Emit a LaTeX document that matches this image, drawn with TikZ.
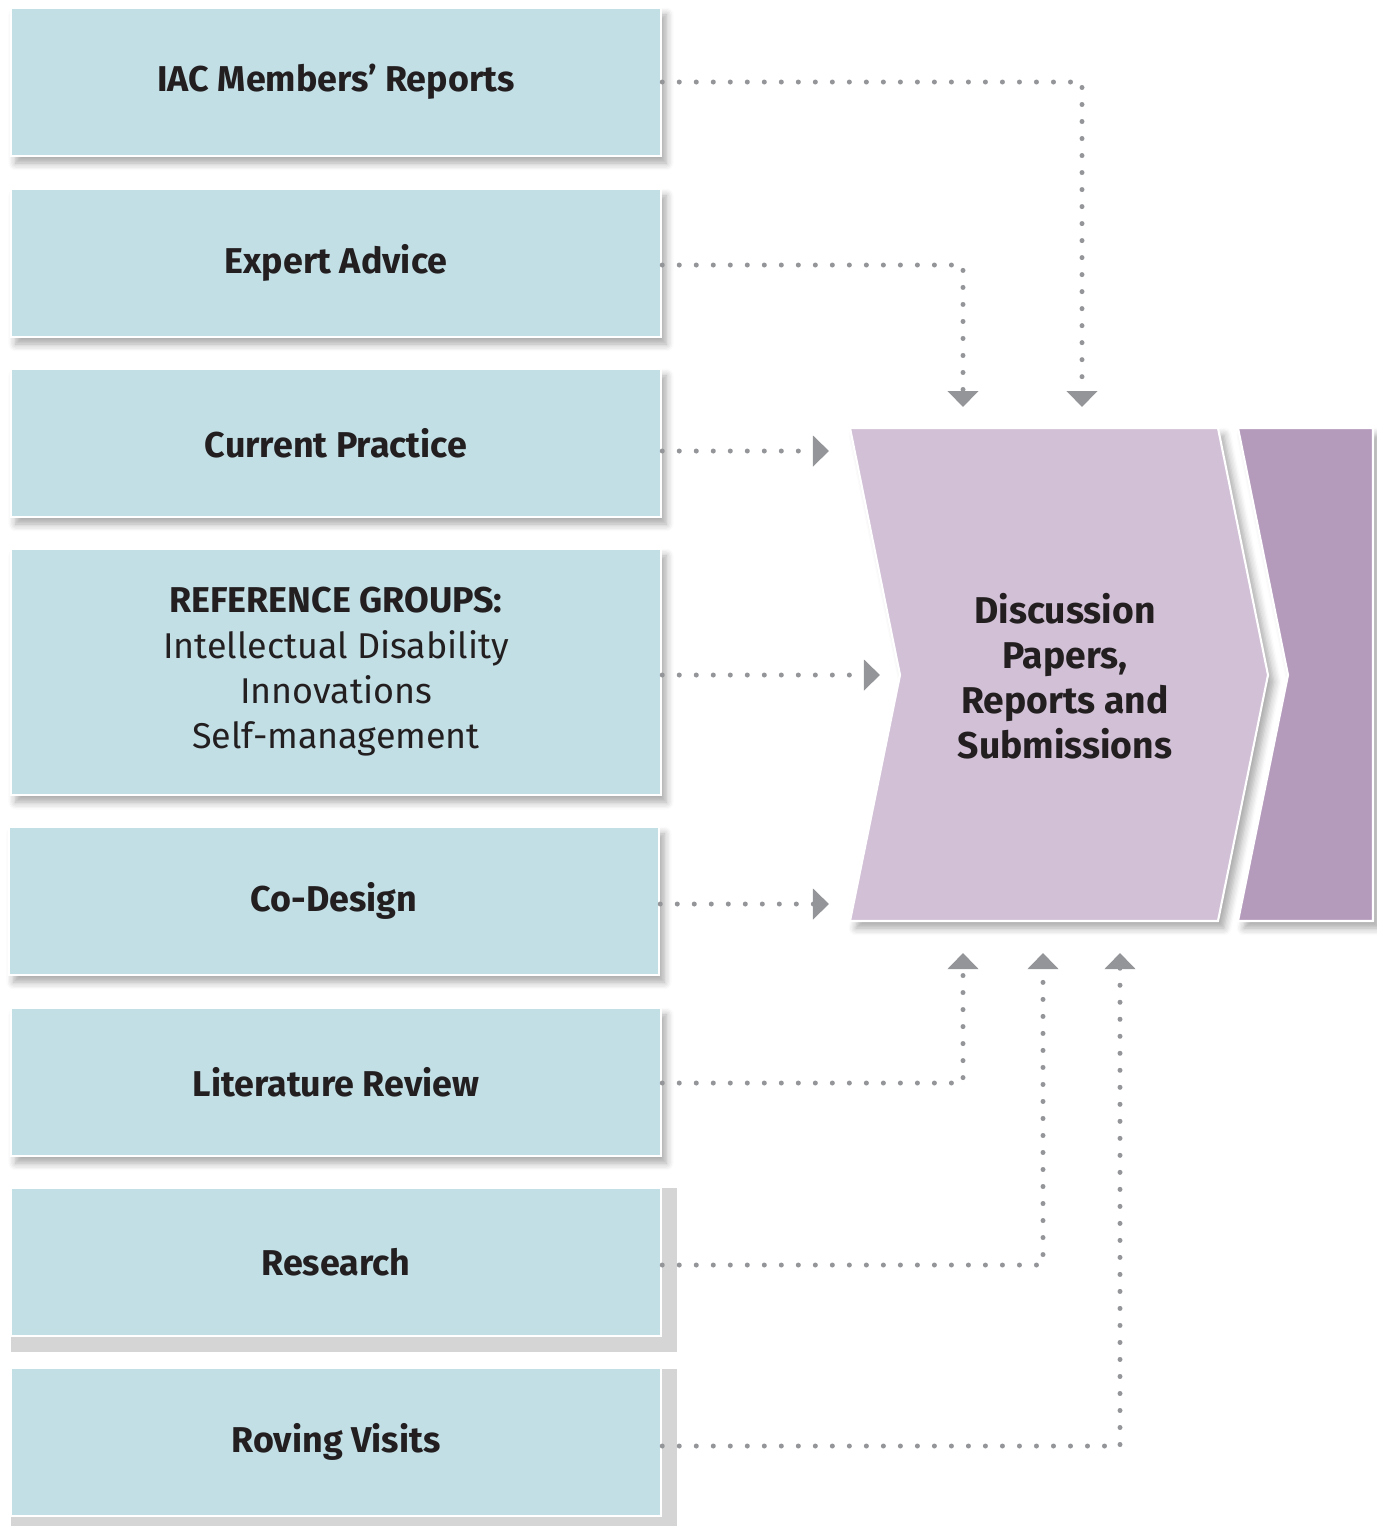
\documentclass[tikz,border=0pt]{standalone}
\usepackage{fontspec}
\setmainfont{Fira Sans}
\usetikzlibrary{arrows.meta,shadows.blur,positioning}
\definecolor{boxblue}{HTML}{C2DFE6}
\definecolor{lilac}{HTML}{D1C0D6}
\definecolor{plum}{HTML}{B49BBC}
\definecolor{dotgrey}{HTML}{939598}
\definecolor{ink}{HTML}{231F20}
\definecolor{edgegrey}{HTML}{D5D5D5}
\tikzset{
    source/.style={
    rectangle,draw=white,line width=0.6pt,fill=boxblue,text=ink,
    minimum width=6.5cm,minimum height=1.48cm,align=center,inner sep=0pt,
    font=\fontsize{10.2}{12.9}\selectfont
    },
    softsource/.style={
    source,
    blur shadow={shadow xshift=0.05cm,shadow yshift=-0.07cm,shadow blur steps=6,shadow opacity=35}
    },
    chevron/.style={
    draw=white,line width=0.6pt,
    blur shadow={shadow xshift=0.06cm,shadow yshift=-0.07cm,shadow blur steps=6,shadow opacity=35}
    },
    flow/.style={
    draw=dotgrey,line width=0.05cm,line cap=round,dash pattern=on 0pt off 0.17cm,
    -{Triangle[width=0.3cm,length=0.16cm]}
    },
}

\begin{document}
\begin{tikzpicture}[x=0.01cm,y=-0.01cm]
  \useasboundingbox (0,0) rectangle (1377,1526);

  % grey frames behind the two lowest boxes
  \fill[edgegrey] (11,1188) rectangle (677,1352);
  \fill[edgegrey] (11,1369) rectangle (677,1526);

  \node[softsource] (iac) at (336,82) {\bfseries IAC Members’ Reports};
  \node[softsource] (expert) at (336,263) {\bfseries Expert Advice};
  \node[softsource] (practice) at (336,443) {\bfseries Current Practice};
  \node[softsource,minimum height=2.46cm] (refgroups) at (336,672)
    {\textbf{REFERENCE GROUPS:}\\Intellectual Disability\\Innovations\\Self-management};
  \node[softsource] (codesign) at (334,901) {\bfseries Co-Design};
  \node[softsource] (litreview) at (336,1082) {\bfseries Literature Review};
  \node[source] (research) at (336,1262) {\bfseries Research};
  \node[source] (roving) at (336,1442) {\bfseries Roving Visits};

  % output chevrons
  \fill[plum,chevron] (1238,428) -- (1373,428) -- (1373,921) -- (1238,921) -- (1288,675) -- cycle;
  \fill[lilac,chevron] (850,428) -- (1218,428) -- (1268,675) -- (1218,921) -- (850,921) -- (900,675) -- cycle;
  \node[text=ink,align=center,font=\fontsize{10.6}{12.8}\selectfont\bfseries] (papers) at (1065,676)
    {Discussion\\Papers,\\Reports and\\Submissions};

  % arrow ends
  \coordinate (inA) at (963,407);
  \coordinate (inB) at (1082,407);
  \coordinate (inC) at (829,451);
  \coordinate (inD) at (880,675);
  \coordinate (inE) at (829,904);
  \coordinate (inF) at (963,953);
  \coordinate (inG) at (1043,953);
  \coordinate (inH) at (1120,953);

  \draw[flow] (iac.east) -| (inB);
  \draw[flow] (expert.east |- 0,265) -| (inA);
  \draw[flow] (practice.east |- inC) -- (inC);
  \draw[flow] (refgroups.east |- inD) -- (inD);
  \draw[flow] (codesign.east |- inE) -- (inE);
  \draw[flow] (litreview.east |- 0,1083) -| (inF);
  \draw[flow] (research.east |- 0,1265) -| (inG);
  \draw[flow] (roving.east |- 0,1446) -| (inH);
\end{tikzpicture}
\end{document}
